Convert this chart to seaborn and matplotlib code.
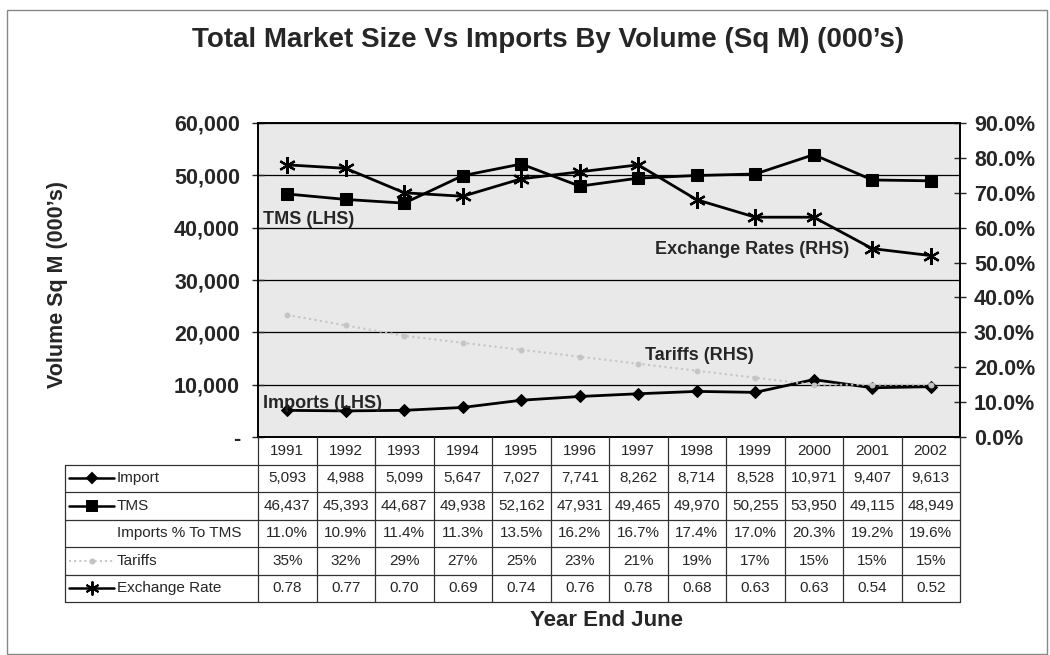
import numpy as np
import pandas as pd
import matplotlib
matplotlib.use("Agg")
import matplotlib.pyplot as plt
from matplotlib.patches import Rectangle
from matplotlib.ticker import FixedLocator, FuncFormatter
import seaborn as sns

years = ["1991", "1992", "1993", "1994", "1995", "1996", "1997", "1998", "1999", "2000", "2001", "2002"]
imports = [5093, 4988, 5099, 5647, 7027, 7741, 8262, 8714, 8528, 10971, 9407, 9613]
tms = [46437, 45393, 44687, 49938, 52162, 47931, 49465, 49970, 50255, 53950, 49115, 48949]
imports_pct = [11.0, 10.9, 11.4, 11.3, 13.5, 16.2, 16.7, 17.4, 17.0, 20.3, 19.2, 19.6]
tariffs = [35, 32, 29, 27, 25, 23, 21, 19, 17, 15, 15, 15]
exchange = [0.78, 0.77, 0.70, 0.69, 0.74, 0.76, 0.78, 0.68, 0.63, 0.63, 0.54, 0.52]

left_ticks = [0, 10000, 20000, 30000, 40000, 50000, 60000]
right_ticks = [0.0, 0.1, 0.2, 0.3, 0.4, 0.5, 0.6, 0.7, 0.8, 0.9]

sns.set_style("white")
plt.rcParams["font.family"] = ["Liberation Sans", "DejaVu Sans"]

W, H = 1050, 655
fig = plt.figure(figsize=(W / 100, H / 100), dpi=100)

# layout (pixels)
px_l, px_r, px_t, px_b = 258, 960, 123, 437
tab_l, tab_b = 65, 602

def fx(px):
    return px / W

def fy(py):
    return 1 - py / H

ax = fig.add_axes([fx(px_l), fy(px_b), fx(px_r) - fx(px_l), fy(px_t) - fy(px_b)])
ax.set_facecolor("#e9e9e9")
n = len(years)
idx = np.arange(n)
df = pd.DataFrame({"idx": idx, "Import": imports, "TMS": tms,
                   "Tariffs": np.array(tariffs) / 100.0, "Exchange": exchange})

sns.lineplot(data=df, x="idx", y="TMS", ax=ax, color="black", lw=2,
             marker="s", markersize=8, markeredgecolor="black", zorder=4)
sns.lineplot(data=df, x="idx", y="Import", ax=ax, color="black", lw=2,
             marker="D", markersize=6, markeredgecolor="black", zorder=4)
ax.set_xlim(-0.5, n - 0.5)
ax.set_ylim(0, 60000)
ax.yaxis.set_major_locator(FixedLocator(left_ticks))
ax.yaxis.set_major_formatter(FuncFormatter(lambda v, p: "-" if v == 0 else f"{int(v):,}"))
ax.yaxis.grid(True, color="black", lw=0.9)
ax.set_axisbelow(True)
ax.set_xticks([])
ax.set_xlabel("")
ax.set_ylabel("")
ax.tick_params(axis="y", direction="inout", length=8, width=1, labelsize=15.5, pad=9)
for lab in ax.get_yticklabels():
    lab.set_fontweight("bold")
for s in ax.spines.values():
    s.set_color("black")
    s.set_linewidth(1.2)

ax2 = ax.twinx()
sns.lineplot(data=df, x="idx", y="Tariffs", ax=ax2, color="#c4c4c4", lw=1.5,
             linestyle=":", marker="o", markersize=3.5, markeredgecolor="#c4c4c4", zorder=3)
sns.lineplot(data=df, x="idx", y="Exchange", ax=ax2, color="black", lw=2,
             marker=(6, 2, 0), markersize=12, markeredgewidth=1.6, markeredgecolor="black", zorder=5)
ax2.set_ylim(0, 0.9)
ax2.yaxis.set_major_locator(FixedLocator(right_ticks))
ax2.yaxis.set_major_formatter(FuncFormatter(lambda v, p: f"{v * 100:.1f}%"))
ax2.set_ylabel("")
ax2.set_xlabel("")
ax2.tick_params(axis="y", direction="inout", length=8, width=1, labelsize=15.5, pad=6)
for lab in ax2.get_yticklabels():
    lab.set_fontweight("bold")
for s in ax2.spines.values():
    s.set_color("black")
    s.set_linewidth(1.2)
ax2.set_xlim(-0.5, n - 0.5)

# in-plot series labels
col_w_px = (px_r - px_l) / n

def dx(px):
    return -0.5 + (px - px_l) / col_w_px

def dyl(py):
    return (px_b - py) / (px_b - px_t) * 60000

lab_kw = dict(fontsize=13, fontweight="bold", va="center", ha="left", zorder=6)
ax.text(dx(263), dyl(220), "TMS (LHS)", **lab_kw)
ax.text(dx(655), dyl(250), "Exchange Rates (RHS)", **lab_kw)
ax.text(dx(645), dyl(355), "Tariffs (RHS)", **lab_kw)
ax.text(dx(263), dyl(404), "Imports (LHS)", **lab_kw)

# data table
tax = fig.add_axes([fx(tab_l), fy(tab_b), fx(px_r) - fx(tab_l), fy(px_b) - fy(tab_b)])
xmin = dx(tab_l)
tax.set_xlim(xmin, n - 0.5)
tax.set_ylim(6, 0)
tax.set_axis_off()
lc = "#333333"
lw = 0.9
for k in range(n + 1):
    tax.plot([-0.5 + k, -0.5 + k], [0, 6], color=lc, lw=lw, clip_on=False)
tax.plot([xmin, xmin], [1, 6], color=lc, lw=lw, clip_on=False)
for r in range(1, 7):
    tax.plot([xmin, n - 0.5], [r, r], color=lc, lw=lw, clip_on=False)

fs = 11
for i, yname in enumerate(years):
    tax.text(i, 0.5, yname, ha="center", va="center", fontsize=fs)
rows = [
    [f"{v:,}" for v in imports],
    [f"{v:,}" for v in tms],
    [f"{v:.1f}%" for v in imports_pct],
    [f"{v}%" for v in tariffs],
    [f"{v:.2f}" for v in exchange],
]
row_labels = ["Import", "TMS", "Imports % To TMS", "Tariffs", "Exchange Rate"]
for r, (vals, name) in enumerate(zip(rows, row_labels)):
    yy = r + 1.5
    for i, s in enumerate(vals):
        tax.text(i, yy, s, ha="center", va="center", fontsize=fs)
    tax.text(dx(117), yy, name, ha="left", va="center", fontsize=fs)

k0, k1, kc = dx(69), dx(114), dx(91.5)
keys = [
    dict(color="black", lw=1.8, ls="-", marker="D", ms=5),
    dict(color="black", lw=1.8, ls="-", marker="s", ms=7),
    None,
    dict(color="#c4c4c4", lw=1.4, ls=":", marker="o", ms=3),
    dict(color="black", lw=1.8, ls="-", marker=(6, 2, 0), ms=10),
]
for r, kk in enumerate(keys):
    if kk is None:
        continue
    yy = r + 1.5
    tax.plot([k0, k1], [yy, yy], color=kk["color"], lw=kk["lw"], ls=kk["ls"], clip_on=False)
    tax.plot([kc], [yy], color=kk["color"], marker=kk["marker"], ms=kk["ms"],
             mec=kk["color"], mew=1.4, clip_on=False)

# titles
fig.text(fx(548), fy(40), "Total Market Size Vs Imports By Volume (Sq M) (000\u2019s)",
         ha="center", va="center", fontsize=20, fontweight="bold")
fig.text(fx(607), fy(620), "Year End June", ha="center", va="center",
         fontsize=16, fontweight="bold")
fig.text(fx(58), fy(285), "Volume Sq M (000\u2019s)", ha="center", va="center",
         rotation=90, fontsize=15.5, fontweight="bold")

# outer chart border
fig.patches.append(Rectangle((fx(7), fy(654)), fx(1047) - fx(7), fy(10) - fy(654),
                             transform=fig.transFigure, fill=False,
                             edgecolor="#888888", lw=1.0))

fig.savefig("out.png", dpi=100)
